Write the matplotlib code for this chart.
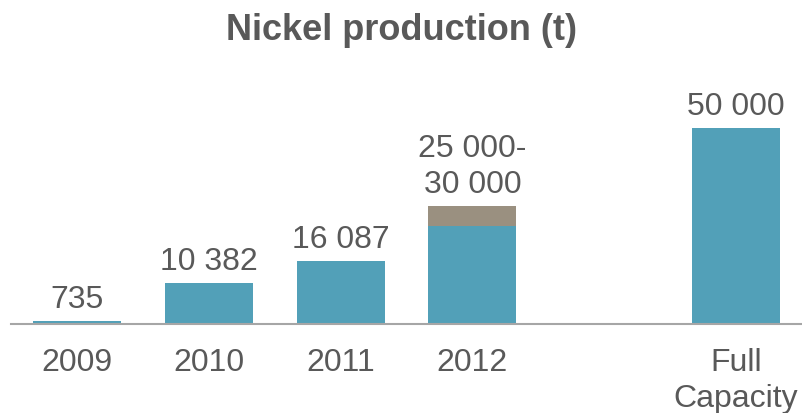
import matplotlib.pyplot as plt

# data
categories = ['2009', '2010', '2011', '2012', 'Full\nCapacity']
slots = [0, 1, 2, 3, 5]          # one empty slot before "Full Capacity"
base_values = [735, 10382, 16087, 25000, 50000]
extra_values = [0, 0, 0, 5000, 0]  # 2012 range 25 000 - 30 000
value_labels = ['735', '10 382', '16 087', '25 000-\n30 000', '50 000']

teal = '#52a0b8'
taupe = '#9a9080'
text_grey = '#595959'

plt.rcParams['font.family'] = ['Liberation Sans', 'DejaVu Sans']

fig = plt.figure(figsize=(8.02, 4.13), dpi=100)
ax = fig.add_axes([11 / 802, 89 / 413, 791 / 802, 196 / 413])

ax.bar(slots, base_values, width=0.667, color=teal)
ax.bar(slots, extra_values, width=0.667, bottom=base_values, color=taupe)

for x, b, e, lab in zip(slots, base_values, extra_values, value_labels):
    ax.annotate(lab, (x, b + e), xytext=(0, 9.5), textcoords='offset points',
                ha='center', va='baseline', fontsize=23, color=text_grey,
                linespacing=1.27, annotation_clip=False)

ax.set_xlim(-0.5, 5.5)
ax.set_ylim(0, 50000)
ax.set_xticks(slots)
ax.set_xticklabels(categories, fontsize=23, color=text_grey, linespacing=1.27)
ax.tick_params(axis='x', length=0, pad=17)
ax.set_yticks([])

for side in ['top', 'right', 'left']:
    ax.spines[side].set_visible(False)
ax.spines['bottom'].set_color('#a6a6a6')
ax.spines['bottom'].set_linewidth(1.5)

fig.text(0.5, 1 - 31 / 413, 'Nickel production (t)', ha='center', va='center',
         fontsize=26, fontweight='bold', color=text_grey)

plt.savefig('out.png', dpi=100)
